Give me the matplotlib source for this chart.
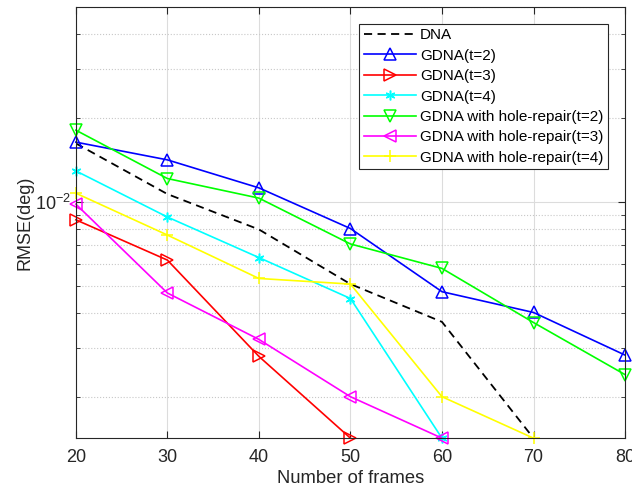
import matplotlib
matplotlib.use("Agg")
import matplotlib.pyplot as plt
import numpy as np
from matplotlib.ticker import LogLocator, NullFormatter

plt.rcParams['font.family'] = ['Liberation Sans', 'DejaVu Sans']
plt.rcParams['mathtext.fontset'] = 'custom'
plt.rcParams['mathtext.rm'] = 'Liberation Sans'
plt.rcParams['mathtext.it'] = 'Liberation Sans:italic'

# values (RMSE in deg), frames 20..80
frames = [20, 30, 40, 50, 60, 70, 80]
bottom = 1.42e-3  # points sitting on the lower axis limit

dna = [0.0162, 0.01066, 0.00796, 0.00507, 0.00371, bottom]
gdna_t2 = [0.01637, 0.01414, 0.01122, 0.00802, 0.00476, 0.00401, 0.00282]
gdna_t3 = [0.00862, 0.00618, 0.00279, bottom]
gdna_t4 = [0.01291, 0.00882, 0.00631, 0.0045, bottom]
hole_t2 = [0.01807, 0.01212, 0.01031, 0.00706, 0.00577, 0.00369, 0.0024]
hole_t3 = [0.00981, 0.00471, 0.00321, 0.0020, bottom]
hole_t4 = [0.01074, 0.0076, 0.00531, 0.00507, 0.0020, bottom]

fig = plt.figure(figsize=(6.32, 4.94), dpi=100)
ax = fig.add_axes([0.120, 0.113, 0.869, 0.873])

kw = dict(lw=1.2, ms=9, mew=1.1, fillstyle='none', clip_on=False)
ax.plot(frames[:len(dna)], dna, 'k--', lw=1.3, dashes=(4.5, 3), label='DNA')
ax.plot(frames[:len(gdna_t2)], gdna_t2, color='#0000ff', marker='^', label='GDNA(t=2)', **kw)
ax.plot(frames[:len(gdna_t3)], gdna_t3, color='#ff0000', marker='>', label='GDNA(t=3)', **kw)
ax.plot(frames[:len(gdna_t4)], gdna_t4, color='#00ffff', marker=(6, 2, 0), label='GDNA(t=4)',
        **dict(kw, ms=7))
ax.plot(frames[:len(hole_t2)], hole_t2, color='#00ff00', marker='v', label='GDNA with hole-repair(t=2)', **kw)
ax.plot(frames[:len(hole_t3)], hole_t3, color='#ff00ff', marker='<', label='GDNA with hole-repair(t=3)', **kw)
ax.plot(frames[:len(hole_t4)], hole_t4, color='#ffff00', marker='+', label='GDNA with hole-repair(t=4)', **kw)

ax.set_yscale('log')
ax.set_xlim(20, 80)
ax.set_ylim(bottom, 0.05)
ax.set_xticks(frames)
ax.yaxis.set_major_locator(LogLocator(base=10))
ax.yaxis.set_minor_locator(LogLocator(base=10, subs=np.arange(2, 10)))
ax.yaxis.set_minor_formatter(NullFormatter())

ax.grid(True, which='major', color='#dcdcdc', lw=0.8, ls='-')
ax.grid(True, which='minor', axis='y', color='#c8c8c8', lw=0.8, ls=':')
ax.set_axisbelow(True)

ax.tick_params(which='both', direction='in', top=True, right=True, colors='#262626',
               labelsize=13, labelcolor='#262626')
ax.tick_params(which='major', length=5)
ax.tick_params(which='minor', length=3)
ax.tick_params(axis='x', pad=8)
for s in ax.spines.values():
    s.set_color('#262626')
    s.set_linewidth(0.8)

ax.set_xlabel('Number of frames', fontsize=13.2, color='#262626', labelpad=3)
ax.set_ylabel('RMSE(deg)', fontsize=13, color='#262626', labelpad=1)

leg = ax.legend(loc='upper right', bbox_to_anchor=(0.9685, 0.961), fontsize=11,
                fancybox=False, framealpha=1, edgecolor='#262626', borderaxespad=0,
                handlelength=3.4, labelspacing=0.42, borderpad=0.3, handletextpad=0.25)
leg.get_frame().set_linewidth(0.8)

fig.savefig('out.png', dpi=100)
